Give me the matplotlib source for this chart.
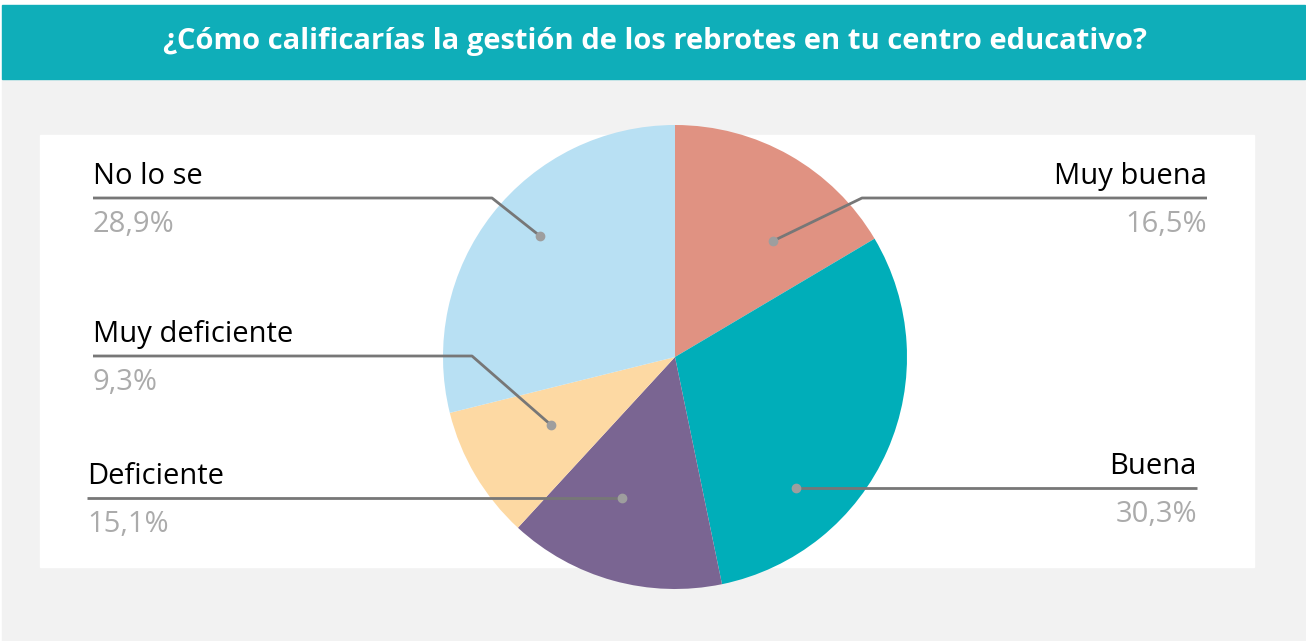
import matplotlib
matplotlib.use("Agg")
import matplotlib.pyplot as plt
from matplotlib.patches import Rectangle

# data
labels = ["Muy buena", "Buena", "Deficiente", "Muy deficiente", "No lo se"]
values = [16.5, 30.3, 15.1, 9.3, 28.9]
pct_text = ["16,5%", "30,3%", "15,1%", "9,3%", "28,9%"]
colors = ["#E09282", "#00AEB9", "#7A6592", "#FDD9A3", "#B8E0F3"]

title = "¿Cómo calificarías la gestión de los rebrotes en tu centro educativo?"

# label layout in image pixels: dot (x, y), kink x, line end x, line y, alignment
callouts = [
    ((773, 241), 862, 1207, 198, "right"),
    ((796, 488), 796, 1197, 488, "right"),
    ((622, 498), 622, 87, 498, "left"),
    ((551, 425), 472, 93, 356, "left"),
    ((540, 236), 492, 93, 198, "left"),
]

W, H = 1306, 641
plt.rcParams['font.family'] = ['Open Sans', 'DejaVu Sans']

fig = plt.figure(figsize=(W / 100, H / 100), dpi=100)
fig.patch.set_facecolor("white")
ax = fig.add_axes([0, 0, 1, 1])


def fy(y):
    # image row -> axes y
    return H - y


# background pieces
ax.add_patch(Rectangle((2, fy(641)), W - 3, 641 - 79, color="#F2F2F2", zorder=0))
ax.add_patch(Rectangle((2, fy(79)), W - 3, 74, color="#0FAEB9", zorder=0))
ax.add_patch(Rectangle((40, fy(567)), 1254 - 40, 567 - 135, color="white", zorder=0))

ax.text(655, fy(49), title, color="white", fontsize=21, fontweight="bold",
        ha="center", va="baseline", zorder=5)

wedges, _ = ax.pie(values, colors=colors, startangle=90, counterclock=False,
                   center=(675, fy(357)), radius=232, frame=True,
                   wedgeprops=dict(linewidth=0))
ax.set_xlim(0, W)
ax.set_ylim(0, H)
ax.set_aspect("auto")
ax.axis("off")

for lab, pct, (dot, kx, ex, ly, side) in zip(labels, pct_text, callouts):
    dx, dy = dot
    ax.plot([dx, kx, ex], [fy(dy), fy(ly), fy(ly)], color="#777777", lw=2,
            solid_capstyle="butt", zorder=3)
    ax.plot(dx, fy(dy), "o", color="#9E9E9E", ms=6, zorder=4)
    ax.text(ex, fy(ly - 14), lab, fontsize=21, color="black", ha=side,
            va="baseline", zorder=5)
    ax.text(ex, fy(ly + 34), pct, fontsize=21, color="#ABABAB", ha=side,
            va="baseline", zorder=5)

fig.savefig("out.png", dpi=100, facecolor=fig.get_facecolor())
